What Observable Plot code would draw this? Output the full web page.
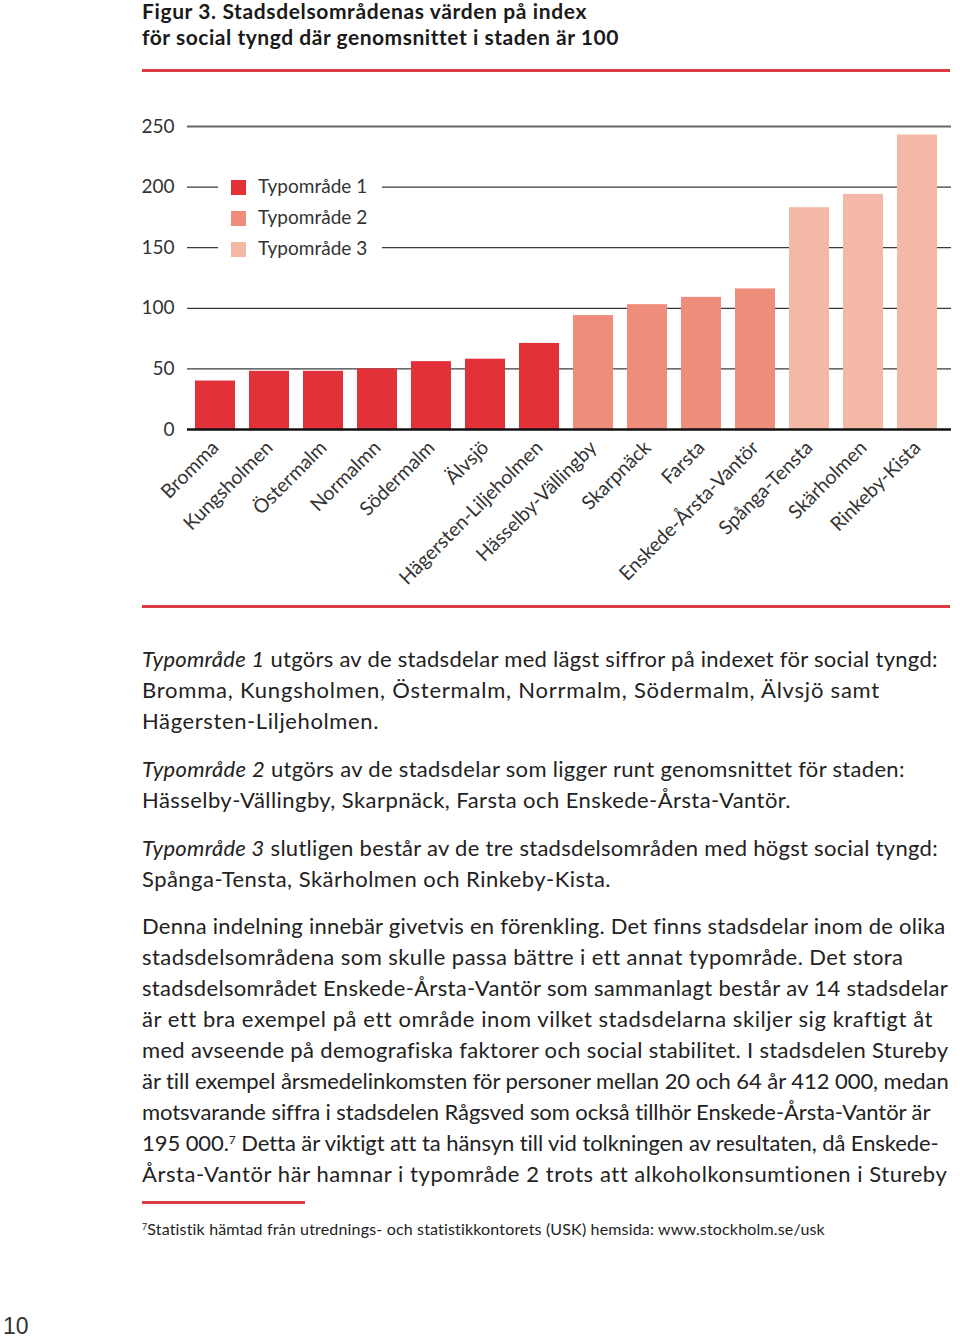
<!DOCTYPE html>
<html>
<head>
<meta charset="utf-8">
<script src="https://cdn.jsdelivr.net/npm/d3@7"></script>
<script src="https://cdn.jsdelivr.net/npm/@observablehq/plot@0.6"></script>
<style>
  html, body { margin: 0; padding: 0; background: #fff; }
  body { width: 960px; height: 1340px; position: relative; overflow: hidden; font-family: Lato, "Open Sans", sans-serif; color: #222; }
  .abs { position: absolute; }
  .ln { display: inline-block; white-space: nowrap; }
  .title { left: 142px; top: -2px; font-weight: 700; font-size: 21px; line-height: 26px; color: #1a1a1a; }
  .redline { background: #dc3b41; height: 3px; }
  .para { left: 142px; font-size: 22px; line-height: 31px; white-space: nowrap; color: #222; }
  .legend { left: 218px; top: 170px; width: 164px; height: 92px; background: #fff; }
  .leg-item { position: absolute; left: 13px; font-size: 19px; color: #333; white-space: nowrap; }
  .leg-item span.sw { position: absolute; left: 0; top: 3px; width: 15px; height: 15px; }
  .leg-item span.lb { position: absolute; left: 27px; top: -3px; }
  .foot { left: 142px; top: 1219px; font-size: 16px; color: #222; white-space: nowrap; }
  .pageno { left: 3px; top: 1313px; font-size: 23px; color: #333; font-family: "Liberation Sans", Arial, sans-serif; }
  sup { font-size: 0.55em; vertical-align: 0.6em; line-height: 0; }
</style>
</head>
<body>
<div class="abs title"><span class="ln" data-w="445">Figur 3. Stadsdelsområdenas värden på index</span><br><span class="ln" data-w="476">för social tyngd där genomsnittet i staden är 100</span></div>
<div class="abs redline" style="left:142px; top:69px; width:808px;"></div>
<div id="chart" class="abs" style="left:0; top:80px;"></div>
<div id="legend" class="abs legend"></div>
<div class="abs redline" style="left:142px; top:605px; width:808px;"></div>

<div class="abs para" style="top:643px;"><span class="ln" data-w="795"><i>Typområde 1</i> utgörs av de stadsdelar med lägst siffror på indexet för social tyngd:</span><br><span class="ln" data-w="738">Bromma, Kungsholmen, Östermalm, Norrmalm, Södermalm, Älvsjö samt</span><br><span class="ln" data-w="237">Hägersten-Liljeholmen.</span></div>
<div class="abs para" style="top:753px;"><span class="ln" data-w="762"><i>Typområde 2</i> utgörs av de stadsdelar som ligger runt genomsnittet för staden:</span><br><span class="ln" data-w="649">Hässelby-Vällingby, Skarpnäck, Farsta och Enskede-Årsta-Vantör.</span></div>
<div class="abs para" style="top:832px;"><span class="ln" data-w="796"><i>Typområde 3</i> slutligen består av de tre stadsdelsområden med högst social tyngd:</span><br><span class="ln" data-w="469">Spånga-Tensta, Skärholmen och Rinkeby-Kista.</span></div>
<div class="abs para" style="top:910px;"><span class="ln" data-w="803">Denna indelning innebär givetvis en förenkling. Det finns stadsdelar inom de olika</span><br><span class="ln" data-w="760">stadsdelsområdena som skulle passa bättre i ett annat typområde. Det stora</span><br><span class="ln" data-w="806">stadsdelsområdet Enskede-Årsta-Vantör som sammanlagt består av 14 stadsdelar</span><br><span class="ln" data-w="789">är ett bra exempel på ett område inom vilket stadsdelarna skiljer sig kraftigt åt</span><br><span class="ln" data-w="806">med avseende på demografiska faktorer och social stabilitet. I stadsdelen Stureby</span><br><span class="ln" data-w="807">är till exempel årsmedelinkomsten för personer mellan 20 och 64 år 412 000, medan</span><br><span class="ln" data-w="788">motsvarande siffra i stadsdelen Rågsved som också tillhör Enskede-Årsta-Vantör är</span><br><span class="ln" data-w="796">195 000.<sup>7</sup> Detta är viktigt att ta hänsyn till vid tolkningen av resultaten, då Enskede-</span><br><span class="ln" data-w="805">Årsta-Vantör här hamnar i typområde 2 trots att alkoholkonsumtionen i Stureby</span></div>
<div class="abs redline" style="left:142px; top:1201px; width:163px;"></div>
<div class="abs foot"><span class="ln" data-w="684"><sup>7</sup>Statistik hämtad från utrednings- och statistikkontorets (USK) hemsida: www.stockholm.se/usk</span></div>
<div class="abs pageno">10</div>

<script>
const districts = ["Bromma","Kungsholmen","Östermalm","Normalmn","Södermalm","Älvsjö","Hägersten-Liljeholmen","Hässelby-Vällingby","Skarpnäck","Farsta","Enskede-Årsta-Vantör","Spånga-Tensta","Skärholmen","Rinkeby-Kista"];
const values = [40, 48, 48, 50, 56, 58, 71, 94, 103, 109, 116, 183, 194, 243];
const types = ["Typområde 1","Typområde 1","Typområde 1","Typområde 1","Typområde 1","Typområde 1","Typområde 1","Typområde 2","Typområde 2","Typområde 2","Typområde 2","Typområde 3","Typområde 3","Typområde 3"];
const typeNames = ["Typområde 1","Typområde 2","Typområde 3"];
const typeColors = ["#e3313a","#ee8d7b","#f4b8a6"];
const yTicks = [0, 50, 100, 150, 200, 250];

const data = districts.map((d, i) => ({district: d, value: values[i], type: types[i]}));

const chart = Plot.plot({
  width: 960,
  height: 520,
  marginLeft: 187,
  marginRight: 9,
  marginTop: 46,
  marginBottom: 171,
  style: {fontFamily: "Lato, sans-serif", fontSize: "19px", color: "#333", background: "transparent"},
  x: {domain: districts, paddingInner: 0.26, paddingOuter: 0.198, align: 0.36},
  y: {domain: [0, 250]},
  color: {domain: typeNames, range: typeColors},
  marks: [
    Plot.ruleY(yTicks.filter(d => d > 0 && d < 250), {stroke: "#3a3a3a", strokeWidth: 1.3}),
    Plot.ruleY([250], {stroke: "#666", strokeWidth: 1.8}),
    Plot.barY(data, {x: "district", y: "value", fill: "type"}),
    Plot.ruleY([0], {stroke: "#111", strokeWidth: 2.5}),
    Plot.axisY({ticks: yTicks, tickSize: 0, tickPadding: 13, label: null, fontSize: 19}),
    Plot.axisX({tickRotate: -45, tickSize: 0, tickPadding: 15, label: null, fontSize: 19.5})
  ]
});
document.getElementById("chart").appendChild(chart);

const legend = document.getElementById("legend");
typeNames.forEach((t, i) => {
  const item = document.createElement("div");
  item.className = "leg-item";
  item.style.top = (7 + i * 31) + "px";
  item.innerHTML = `<span class="sw" style="background:${typeColors[i]}"></span><span class="lb">${t}</span>`;
  legend.appendChild(item);
});

// fit each text line to the width it has in the printed page
document.querySelectorAll(".ln").forEach(el => {
  const target = +el.dataset.w;
  const w = el.getBoundingClientRect().width;
  const n = el.textContent.length;
  if (n > 1) el.style.letterSpacing = ((target - w) / n) + "px";
});
</script>
</body>
</html>
